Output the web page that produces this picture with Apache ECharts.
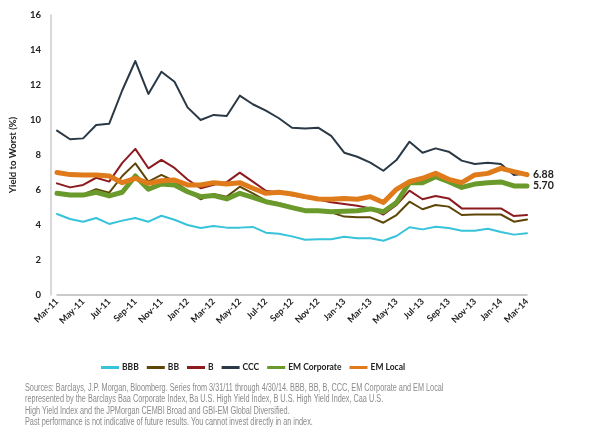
<!DOCTYPE html>
<html>
<head>
<meta charset="utf-8">
<script src="https://cdn.jsdelivr.net/npm/echarts@6/dist/echarts.min.js"></script>
<style>
  html, body { margin: 0; padding: 0; background: #fff; }
  #chart { width: 600px; height: 435px; }
</style>
</head>
<body>
<div id="chart"></div>
<script>
  // months Mar-11 .. Mar-14
  const months = ['Mar-11','Apr-11','May-11','Jun-11','Jul-11','Aug-11','Sep-11','Oct-11','Nov-11','Dec-11',
    'Jan-12','Feb-12','Mar-12','Apr-12','May-12','Jun-12','Jul-12','Aug-12','Sep-12','Oct-12','Nov-12','Dec-12',
    'Jan-13','Feb-13','Mar-13','Apr-13','May-13','Jun-13','Jul-13','Aug-13','Sep-13','Oct-13','Nov-13','Dec-13',
    'Jan-14','Feb-14','Mar-14'];

  const bbb = [4.63,4.34,4.19,4.4,4.06,4.25,4.4,4.19,4.53,4.3,4.0,3.83,3.94,3.85,3.85,3.89,3.56,3.5,3.35,3.16,3.18,3.18,
    3.33,3.24,3.24,3.1,3.37,3.87,3.75,3.9,3.83,3.67,3.67,3.79,3.6,3.45,3.53];
  const bb = [5.85,5.72,5.75,6.04,5.85,6.8,7.52,6.48,6.86,6.5,5.95,5.47,5.77,5.62,6.19,5.81,5.39,5.24,5.05,4.82,4.77,4.72,
    4.48,4.44,4.44,4.13,4.57,5.33,4.9,5.14,5.05,4.57,4.6,4.6,4.6,4.19,4.32];
  const b = [6.38,6.15,6.29,6.7,6.48,7.55,8.35,7.24,7.72,7.26,6.6,6.1,6.3,6.45,6.99,6.48,5.96,5.85,5.7,5.55,5.45,5.3,
    5.2,5.1,4.95,4.6,5.14,5.96,5.47,5.66,5.52,4.95,4.95,4.95,4.95,4.51,4.57];
  const ccc = [9.39,8.9,8.95,9.71,9.79,11.7,13.37,11.49,12.76,12.19,10.72,10.0,10.29,10.23,11.39,10.9,10.53,10.1,9.56,9.52,
    9.56,9.09,8.13,7.9,7.56,7.1,7.71,8.76,8.13,8.38,8.19,7.68,7.49,7.56,7.49,6.86,6.95];
  const emCorporate = [5.81,5.71,5.71,5.87,5.66,5.87,6.8,6.04,6.34,6.29,5.9,5.62,5.68,5.49,5.81,5.58,5.33,5.18,4.99,4.82,
    4.82,4.76,4.79,4.82,4.92,4.76,5.28,6.42,6.42,6.76,6.48,6.15,6.34,6.42,6.46,6.23,6.23];
  const emLocal = [7.0,6.88,6.86,6.86,6.8,6.42,6.67,6.38,6.53,6.57,6.29,6.29,6.42,6.34,6.42,6.1,5.81,5.87,5.77,5.62,5.49,
    5.47,5.52,5.47,5.62,5.28,6.04,6.48,6.67,6.95,6.61,6.42,6.86,6.95,7.24,7.05,6.88];

  const endLabels = { 'EM Corporate': '5.70', 'EM Local': '6.88' };

  const footnote = [
    'Sources: Barclays, J.P. Morgan, Bloomberg. Series from 3/31/11 through 4/30/14. BBB, BB, B, CCC, EM Corporate and EM Local',
    'represented by the Barclays Baa Corporate Index, Ba U.S. High Yield Index, B U.S. High Yield Index, Caa U.S.',
    'High Yield Index and the JPMorgan CEMBI Broad and GBI-EM Global Diversified.',
    'Past performance is not indicative of future results. You cannot invest directly in an index.'
  ];

  const font = 'Lato, "DejaVu Sans", sans-serif';

  function line(name, data, color, width) {
    const s = {
      name: name,
      type: 'line',
      data: data,
      symbol: 'none',
      color: color,
      lineStyle: { width: width, color: color, cap: 'round', join: 'round' }
    };
    if (endLabels[name]) {
      s.endLabel = {
        show: true,
        formatter: () => endLabels[name],
        color: '#222',
        fontFamily: font,
        fontWeight: 'bold',
        fontSize: 10.5,
        distance: 6
      };
    }
    return s;
  }

  let myChart = echarts.init(document.getElementById('chart'));
  myChart.setOption({
    animation: false,
    grid: { left: 53, right: 73, top: 15, bottom: 140 },
    legend: {
      left: 96,
      top: 358,
      icon: 'rect',
      itemWidth: 18,
      itemHeight: 3,
      itemGap: 8,
      textStyle: { fontFamily: font, fontWeight: 'bold', fontSize: 8.5, color: '#222', padding: [0, 0, 0, -2] },
      data: ['BBB', 'BB', 'B', 'CCC', 'EM Corporate', 'EM Local']
    },
    xAxis: {
      type: 'category',
      boundaryGap: false,
      data: months,
      axisLine: { lineStyle: { color: '#bbb', width: 1.5 } },
      axisTick: { show: false },
      axisLabel: {
        interval: 1,
        rotate: 45,
        margin: 5,
        fontFamily: font,
        fontWeight: 'bold',
        fontSize: 9,
        color: '#222'
      }
    },
    yAxis: {
      type: 'value',
      min: 0,
      max: 16,
      interval: 2,
      offset: 6,
      name: 'Yield to Worst (%)',
      nameLocation: 'middle',
      nameGap: 33,
      nameTextStyle: { fontFamily: font, fontWeight: 'bold', fontSize: 9.5, color: '#222' },
      axisLine: { show: true, lineStyle: { color: '#ccc', width: 1.5 } },
      axisTick: { show: false },
      splitLine: { show: false },
      axisLabel: { margin: 10, fontFamily: font, fontWeight: 'bold', fontSize: 9.5, color: '#222' }
    },
    series: [
      line('BBB', bbb, '#37c3d9', 2),
      line('BB', bb, '#5e4606', 2),
      line('B', b, '#8c1b1f', 2),
      line('CCC', ccc, '#2a3945', 2),
      line('EM Corporate', emCorporate, '#6a9a2b', 5),
      line('EM Local', emLocal, '#e07b1c', 5)
    ],
    // footnote set in a condensed look by squeezing the text horizontally
    graphic: footnote.map((t, i) => ({
      type: 'text',
      x: 25,
      y: 383 + i * 11.5,
      scaleX: 0.73,
      style: {
        text: t,
        fill: '#8a8a8a',
        font: '10px "Liberation Sans", sans-serif'
      }
    }))
  });
</script>
</body>
</html>
